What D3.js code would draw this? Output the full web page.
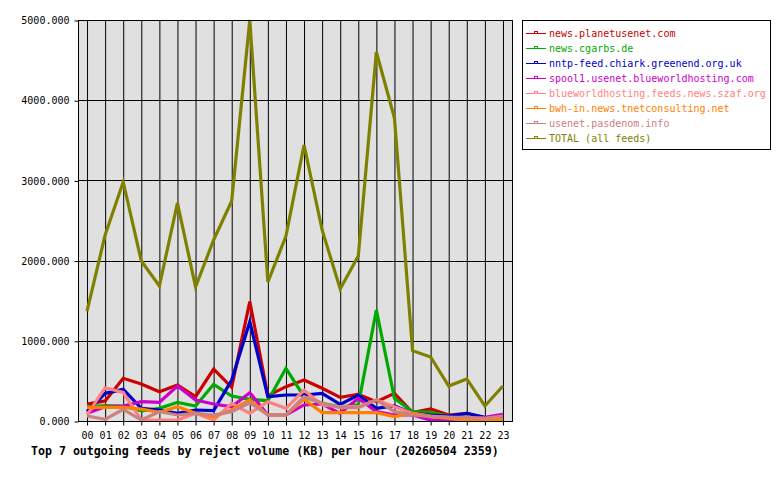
<!DOCTYPE html>
<html>
<head>
<meta charset="utf-8">
<script src="https://cdn.jsdelivr.net/npm/d3@7"></script>
<style>
  body { margin: 0; background: #fff; }
  svg text { font-family: "DejaVu Sans Mono", monospace; }
</style>
</head>
<body>
<svg id="chart" width="780" height="480"></svg>
<script>
// hours 00..23
const hours = d3.range(24).map(h => String(h).padStart(2, '0'));

const feedNames = [
  'news.planetusenet.com',
  'news.cgarbs.de',
  'nntp-feed.chiark.greenend.org.uk',
  'spool1.usenet.blueworldhosting.com',
  'blueworldhosting.feeds.news.szaf.org',
  'bwh-in.news.tnetconsulting.net',
  'usenet.pasdenom.info',
  'TOTAL (all feeds)'
];
const feedColors = ['#cc0000', '#00aa00', '#0000cc', '#cc00cc', '#ff8080', '#ff8000', '#cc8080', '#808000'];

// reject volume in KB, per hour
const planetusenet = [210, 250, 532, 461, 365, 449, 303, 648, 420, 1490, 315, 428, 511, 408, 295, 333, 241, 345, 104, 150, 75, 96, 41, 33];
const cgarbs       = [178, 191, 187, 125, 158, 233, 187, 457, 312, 270, 253, 657, 303, 220, 178, 200, 1384, 283, 116, 108, 62, 46, 33, 21];
const chiark       = [116, 345, 395, 158, 137, 96, 137, 129, 511, 1238, 303, 324, 324, 345, 208, 324, 158, 187, 96, 75, 62, 96, 46, 21];
const spool1       = [96, 178, 187, 241, 233, 436, 262, 212, 178, 353, 75, 75, 200, 212, 96, 283, 116, 75, 75, 12, 21, 33, 46, 83];
const szaf         = [75, 415, 357, 12, 12, 12, 96, 12, 220, 96, 241, 158, 386, 200, 178, 178, 262, 178, 96, 62, 46, 33, 21, 21];
const tnet         = [171, 171, 171, 150, 108, 178, 96, 54, 137, 262, 75, 75, 270, 104, 104, 104, 104, 54, 96, 54, 33, 21, 12, 12];
const pasdenom     = [62, 21, 146, 12, 116, 75, 96, 75, 116, 228, 75, 75, 303, 220, 166, 166, 262, 116, 75, 54, 46, 46, 33, 62];
const total        = [1370, 2319, 2980, 1995, 1683, 2718, 1671, 2257, 2743, 5000, 1733, 2307, 3441, 2382, 1646, 2057, 4601, 3778, 877, 798, 436, 524, 187, 436];

const seriesValues = [planetusenet, cgarbs, chiark, spool1, szaf, tnet, pasdenom, total];
const yTicks = [0, 1000, 2000, 3000, 4000, 5000];
const chartTitle = 'Top 7 outgoing feeds by reject volume (KB) per hour (20260504 2359)';

const svg = d3.select('#chart');

let x = d3.scaleBand().domain(hours).range([78, 512]);
let cx = h => x(h) + x.bandwidth() / 2;
let y = d3.scaleLinear().domain([0, 5000]).range([421, 20]);

// plot background
svg.append('rect')
  .attr('x', 78).attr('y', 20)
  .attr('width', 512 - 78).attr('height', 421 - 20)
  .attr('fill', '#e0e0e0');

// grid lines
svg.append('g').selectAll('line.v')
  .data(hours).enter().append('line')
  .attr('x1', d => cx(d) + 0.5).attr('x2', d => cx(d) + 0.5)
  .attr('y1', 20).attr('y2', 421)
  .attr('stroke', '#000').attr('stroke-width', 1);

svg.append('g').selectAll('line.h')
  .data(yTicks).enter().append('line')
  .attr('x1', 78).attr('x2', 512)
  .attr('y1', d => Math.round(y(d)) + 0.5).attr('y2', d => Math.round(y(d)) + 0.5)
  .attr('stroke', '#000').attr('stroke-width', 1);

// axes
let yAxis = svg.append('g')
  .attr('transform', 'translate(78.5,0.5)')
  .call(d3.axisLeft(y).tickValues(yTicks).tickSize(4).tickPadding(5).tickFormat(d3.format('.3f')));

let xAxis = svg.append('g')
  .attr('transform', 'translate(0.5,421.5)')
  .call(d3.axisBottom(x).tickSize(4).tickPadding(6));

[yAxis, xAxis].forEach(a => {
  a.select('.domain').remove();
  a.selectAll('line').attr('stroke', '#000');
  a.selectAll('text')
    .attr('fill', '#000')
    .style('font-family', '"DejaVu Sans Mono", monospace')
    .style('font-size', '10px');
});

// series lines, total drawn last
let line = d3.line()
  .x((d, i) => cx(hours[i]))
  .y(d => y(d));

svg.append('g').selectAll('path.series')
  .data(seriesValues).enter().append('path')
  .attr('class', 'series')
  .attr('d', line)
  .attr('fill', 'none')
  .attr('stroke', (d, i) => feedColors[i])
  .attr('stroke-width', 3.2)
  .attr('stroke-linejoin', 'miter');

// plot frame
svg.append('rect')
  .attr('x', 78.5).attr('y', 20.5)
  .attr('width', 512 - 78).attr('height', 421 - 20)
  .attr('fill', 'none').attr('stroke', '#000');

// legend
let legend = svg.append('g');
legend.append('rect')
  .attr('x', 522.5).attr('y', 20.5)
  .attr('width', 248).attr('height', 129)
  .attr('fill', '#fff').attr('stroke', '#000');

let rows = legend.selectAll('g.row')
  .data(feedNames).enter().append('g')
  .attr('transform', (d, i) => `translate(0,${Math.round(33 + i * 14.95)})`);

rows.append('line')
  .attr('x1', 526).attr('x2', 546)
  .attr('y1', 0.5).attr('y2', 0.5)
  .attr('stroke', (d, i) => feedColors[i]).attr('stroke-width', 1);
rows.append('rect')
  .attr('x', 534.5).attr('y', -1.5)
  .attr('width', 3).attr('height', 2)
  .attr('fill', 'none')
  .attr('stroke', (d, i) => feedColors[i]).attr('stroke-width', 1);
rows.append('text')
  .attr('x', 549).attr('y', 4)
  .attr('fill', (d, i) => feedColors[i])
  .style('font-size', '10px')
  .text(d => d);

// title
svg.append('text')
  .attr('x', 31).attr('y', 455)
  .style('font-size', '11.6px')
  .style('font-weight', 'bold')
  .attr('fill', '#000')
  .text(chartTitle);
</script>
</body>
</html>
